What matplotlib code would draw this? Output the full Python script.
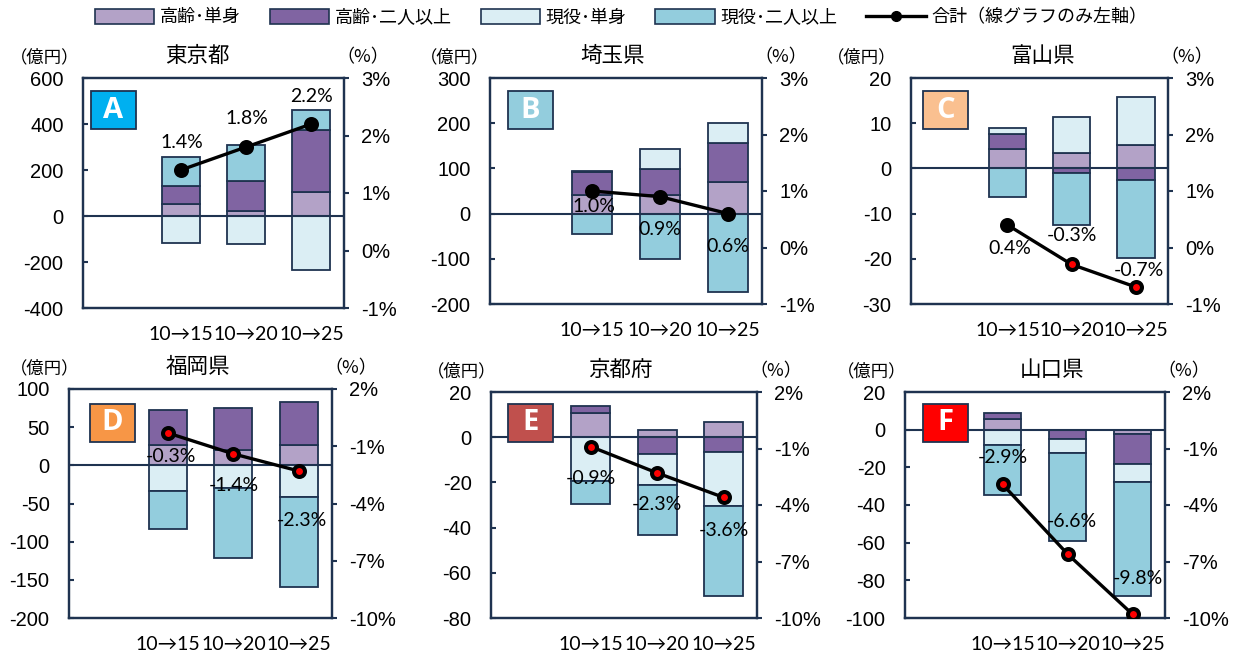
import numpy as np
import matplotlib
matplotlib.use("Agg")
import matplotlib.pyplot as plt
from matplotlib.patches import Patch, Rectangle
from matplotlib.lines import Line2D

plt.rcParams['font.family'] = ['Liberation Sans', 'Noto Sans CJK JP']
plt.rcParams['axes.unicode_minus'] = False

W, H = 1242, 656

periods = ["10→15", "10→20", "10→25"]
prefs = ["東京都", "埼玉県", "富山県", "福岡県", "京都府", "山口県"]
letters = ["A", "B", "C", "D", "E", "F"]
series_names = ["高齢･単身", "高齢･二人以上", "現役･単身", "現役･二人以上"]

# 億円, one row per prefecture, one value per period
elder_single = [[51, 20, 103], [42, 42, 70], [4.3, 3.4, 5.2],
                [27, 20, 27], [10.6, 3.1, 6.9], [5.5, 0, -2.5]]
elder_multi = [[81, 131, 269], [51, 56, 86], [3.3, -1.1, -2.6],
               [46, 55, 56], [3.3, -7.5, -6.6], [3.5, -5.1, -15.5]]
worker_single = [[-116, -123, -233], [2, 45, 44], [1.3, 7.9, 10.5],
                 [-34, -30, -42], [-19.2, -13.7, -23.9], [-8.3, -7.1, -10.0]]
worker_multi = [[124, 159, 87], [-46, -101, -173], [-6.3, -11.5, -17.3],
                [-50, -91, -117], [-10.3, -22.0, -39.6], [-26.4, -46.9, -60.2]]
# 合計 (%)
total_pct = [[1.4, 1.8, 2.2], [1.0, 0.9, 0.6], [0.4, -0.3, -0.7],
             [-0.3, -1.4, -2.3], [-0.9, -2.3, -3.6], [-2.9, -6.6, -9.8]]

# axis ranges: (min, max, step)
left_axis = [(-400, 600, 200), (-200, 300, 100), (-30, 20, 10),
             (-200, 100, 50), (-80, 20, 20), (-100, 20, 20)]
right_axis = [(-1, 3, 1), (-1, 3, 1), (-1, 3, 1),
              (-10, 2, 3), (-10, 2, 3), (-10, 2, 3)]

# layout in pixels: left, top, right, bottom
panel_px = [(83, 78, 344, 308), (490, 78, 762, 304), (911, 78, 1168, 304),
            (69, 389, 332, 618), (491, 392, 757, 618), (905, 392, 1165, 618)]
box_px = [(91, 91), (508, 91), (923, 91), (90, 404), (508, 404), (923, 404)]
unit_x = [45, 455, 862, 45, 462, 872]
title_x = [0.44, 0.45, 0.51, 0.49, 0.485, 0.565]
# percent-label offsets from the markers, pixels (dx, dy up)
label_off = [[(1, 28), (1, 28), (0, 28)],
             [(2, -15), (0, -33), (0, -33)],
             [(2, -24), (0, 29), (3, 17)],
             [(3, -24), (0, -32), (3, -49)],
             [(0, -32), (0, -32), (0, -33)],
             [(0, 27), (4, 32), (5, 36)]]

colors = ["#B3A2C7", "#8064A2", "#DBEEF4", "#93CDDD"]
box_colors = ["#00B0F0", "#93CDDD", "#FAC090", "#F79646", "#C0504D", "#FF0000"]
navy = "#1F3350"
PX = 0.72  # points per pixel at dpi 100

fig = plt.figure(figsize=(W / 100, H / 100), dpi=100)


def rect(l, t, r, b):
    return [l / W, 1 - b / H, (r - l) / W, (b - t) / H]


x = np.arange(1, 4)
for i, pref in enumerate(prefs):
    l, t, r, b = panel_px[i]
    ax = fig.add_axes(rect(l, t, r, b))
    vals = [elder_single[i], elder_multi[i], worker_single[i], worker_multi[i]]
    pos = np.zeros(3)
    neg = np.zeros(3)
    for v, c in zip(vals, colors):
        v = np.array(v, dtype=float)
        bottom = np.where(v >= 0, pos, neg)
        ax.bar(x, v, 0.58, bottom=bottom, color=c, edgecolor=navy,
               linewidth=1.3, zorder=2)
        pos += np.where(v >= 0, v, 0)
        neg += np.where(v < 0, v, 0)
    ax.axhline(0, color=navy, lw=1.5, zorder=3)

    lo, hi, st = left_axis[i]
    ax.set_ylim(lo, hi)
    ax.set_yticks(np.arange(lo, hi + st / 2, st))
    ax.set_xlim(-0.5, 3.5)
    ax.set_xticks(x)
    ax.set_xticklabels(periods, family=['Lato', 'Noto Sans CJK JP'], fontsize=14)
    ax.tick_params(axis='x', length=0, pad=13)
    ax.tick_params(axis='y', direction='in', length=3.5, width=1.5,
                   color=navy, labelsize=14.5, pad=14)
    for s in ax.spines.values():
        s.set_color(navy)
        s.set_linewidth(1.6)

    ax2 = ax.twinx()
    rlo, rhi, rst = right_axis[i]
    ax2.set_ylim(rlo, rhi)
    rt = np.arange(rlo, rhi + rst / 2, rst)
    ax2.set_yticks(rt)
    ax2.set_yticklabels([f"{v:g}%" for v in rt])
    ax2.tick_params(axis='y', direction='out', length=3.5, width=1.5,
                    color=navy, labelsize=14.5, pad=9)
    for s in ax2.spines.values():
        s.set_color(navy)
        s.set_linewidth(1.6)

    pct = total_pct[i]
    ax2.plot(x, pct, color='black', lw=2.4, zorder=4)
    for k, v in enumerate(pct):
        ax2.plot(x[k], v, 'o', ms=7.9, mew=2.9, mec='black',
                 mfc='red' if v < 0 else 'black', zorder=5)
        dx, dy = label_off[i][k]
        ax2.annotate(f"{v:.1f}%", (x[k], v), xytext=(dx * PX, dy * PX),
                     textcoords='offset points', ha='center', va='center',
                     fontsize=14, family=['Lato', 'DejaVu Sans'], zorder=6)

    fig.text((l + (r - l) * title_x[i]) / W, 1 - (t - 22) / H, pref,
             ha='center', va='center', fontsize=15.5, family='Noto Sans CJK JP')
    fig.text(unit_x[i] / W, 1 - (t - 21) / H, "（億円）", ha='center', va='center',
             fontsize=12.5, family='Noto Sans CJK JP')
    fig.text((r + 19) / W, 1 - (t - 21) / H, "（%）", ha='center', va='center',
             fontsize=13, family='Noto Sans CJK JP')

    bx, by = box_px[i]
    fig.patches.append(Rectangle((bx / W, 1 - (by + 38) / H), 45 / W, 38 / H,
                                 transform=fig.transFigure, facecolor=box_colors[i],
                                 edgecolor=navy, linewidth=1.3, zorder=10))
    fig.text((bx + 22.5) / W, 1 - (by + 19) / H, letters[i], ha='center',
             va='center', color='white', fontsize=21, fontweight='bold',
             family='Open Sans', zorder=11)

handles = [Patch(facecolor=c, edgecolor=navy, linewidth=1.2) for c in colors]
handles.append(Line2D([], [], color='black', lw=2.4, marker='o', ms=7, mfc='black'))
labels = series_names + ["合計（線グラフのみ左軸）"]
fig.legend(handles, labels, loc='upper center', bbox_to_anchor=(0.5, 1.012),
           ncol=5, frameon=False, prop={'family': 'Noto Sans CJK JP', 'size': 13},
           handlelength=3.3, handleheight=0.9, handletextpad=0.3, columnspacing=1.6)

fig.savefig("out.png", dpi=100)
